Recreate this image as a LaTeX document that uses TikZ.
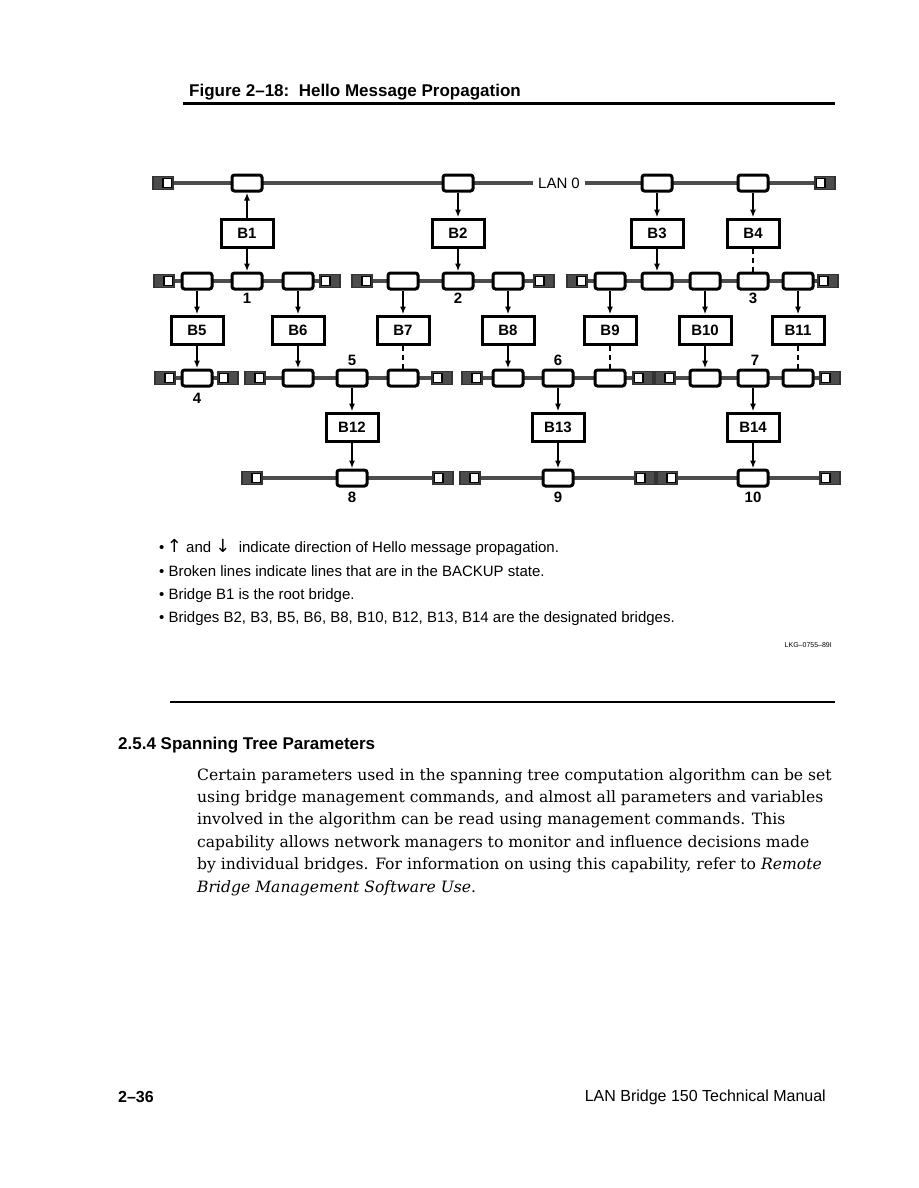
\documentclass[tikz,border=0pt]{standalone}
\usepackage{fontspec}
\setmainfont{DejaVu Serif}
\setsansfont{Liberation Sans}
\newfontfamily\arrowfont{DejaVu Sans}
\usepackage{xcolor}
\usetikzlibrary{arrows.meta,positioning}

\begin{document}
\begin{tikzpicture}[
    x=1pt, y=-1pt,
    lan/.style={line width=3.5pt, black!70},
    port/.style={draw, line width=3pt, rounded corners=2.5pt, minimum width=30pt, minimum height=16pt, inner sep=0pt, fill=white},
    bridge/.style={draw, line width=3pt, minimum width=52pt, minimum height=28pt, inner sep=0pt, fill=white, font=\sffamily\bfseries\fontsize{15}{15}\selectfont},
    term/.style={draw, line width=1.5pt, black!80, fill=black!70, minimum width=20pt, minimum height=13pt, inner sep=0pt},
    terml/.style={term, path picture={\draw[black, fill=white, line width=1.5pt] ([xshift=-10pt,yshift=4.5pt]path picture bounding box.east) rectangle ([xshift=-1.5pt,yshift=-4.5pt]path picture bounding box.east);}},
    termr/.style={term, path picture={\draw[black, fill=white, line width=1.5pt] ([xshift=1.5pt,yshift=4.5pt]path picture bounding box.west) rectangle ([xshift=10pt,yshift=-4.5pt]path picture bounding box.west);}},
    hello/.style={-{Latex[length=8pt,width=6pt]}, line width=2pt},
    backup/.style={line width=2pt, dash pattern=on 5pt off 4pt},
    lannum/.style={font=\sffamily\bfseries\fontsize{15}{15}\selectfont, inner sep=0pt},
    note/.style={anchor=west, inner sep=0pt, font=\sffamily\fontsize{15}{15}\selectfont, text height=11pt, text depth=3pt}
  ]
    \fill[white] (0,0) rectangle (918,1188);
    \useasboundingbox (0,0) rectangle (918,1188);

    % page heading
    \node[anchor=west, inner sep=0pt, font=\sffamily\bfseries\fontsize{17}{17}\selectfont] (title) at (189,92) {Figure 2–18:\ \ Hello Message Propagation};
    \draw[line width=3pt] (183,104) -- (835,104);

    % LAN 0
    \node[terml] (t0l) at (163,183) {};
    \node[termr] (t0r) at (825,183) {};
    \node[inner sep=5pt, font=\sffamily\fontsize{15}{15}\selectfont] (lan0) at (559,183) {LAN 0};
    \draw[lan] (t0l) -- (lan0);
    \draw[lan] (lan0) -- (t0r);
    \node[port] (p0a) at (247,183) {};
    \node[port] (p0b) at (458,183) {};
    \node[port] (p0c) at (657,183) {};
    \node[port] (p0d) at (753,183) {};

    \node[bridge] (b1) at (247,233) {B1};
    \node[bridge] (b2) at (458,233) {B2};
    \node[bridge] (b3) at (657,233) {B3};
    \node[bridge] (b4) at (753,233) {B4};

    % LANs 1, 2, 3
    \node[terml] (t1l) at (164,281) {};
    \node[termr] (t1r) at (330,281) {};
    \draw[lan] (t1l) -- (t1r);
    \node[port] (p1a) at (197,281) {};
    \node[port] (p1b) at (247,281) {};
    \node[port] (p1c) at (298,281) {};
    \node[lannum] (n1) at (247,298) {1};

    \node[terml] (t2l) at (362,281) {};
    \node[termr] (t2r) at (544,281) {};
    \draw[lan] (t2l) -- (t2r);
    \node[port] (p2a) at (403,281) {};
    \node[port] (p2b) at (458,281) {};
    \node[port] (p2c) at (508,281) {};
    \node[lannum] (n2) at (458,298) {2};

    \node[terml] (t3l) at (577,281) {};
    \node[termr] (t3r) at (828,281) {};
    \draw[lan] (t3l) -- (t3r);
    \node[port] (p3a) at (610,281) {};
    \node[port] (p3b) at (657,281) {};
    \node[port] (p3c) at (705,281) {};
    \node[port] (p3d) at (753,281) {};
    \node[port] (p3e) at (798,281) {};
    \node[lannum] (n3) at (753,298) {3};

    \node[bridge] (b5) at (197,330) {B5};
    \node[bridge] (b6) at (298,330) {B6};
    \node[bridge] (b7) at (403,330) {B7};
    \node[bridge] (b8) at (508,330) {B8};
    \node[bridge] (b9) at (610,330) {B9};
    \node[bridge] (b10) at (705,330) {B10};
    \node[bridge] (b11) at (798,330) {B11};

    % LANs 4, 5, 6, 7
    \node[terml] (t4l) at (165,378) {};
    \node[termr] (t4r) at (228,378) {};
    \draw[lan] (t4l) -- (t4r);
    \node[port] (p4a) at (197,378) {};
    \node[lannum] (n4) at (197,398) {4};

    \node[terml] (t5l) at (255,378) {};
    \node[termr] (t5r) at (442,378) {};
    \draw[lan] (t5l) -- (t5r);
    \node[port] (p5a) at (298,378) {};
    \node[port] (p5b) at (352,378) {};
    \node[port] (p5c) at (403,378) {};
    \node[lannum] (n5) at (352,360) {5};

    \node[terml] (t6l) at (472,378) {};
    \node[termr] (t6r) at (643,378) {};
    \draw[lan] (t6l) -- (t6r);
    \node[port] (p6a) at (508,378) {};
    \node[port] (p6b) at (558,378) {};
    \node[port] (p6c) at (610,378) {};
    \node[lannum] (n6) at (558,360) {6};

    \node[terml] (t7l) at (665,378) {};
    \node[termr] (t7r) at (830,378) {};
    \draw[lan] (t7l) -- (t7r);
    \node[port] (p7a) at (705,378) {};
    \node[port] (p7b) at (753,378) {};
    \node[port] (p7c) at (798,378) {};
    \node[lannum] (n7) at (755,360) {7};

    \node[bridge] (b12) at (352,427) {B12};
    \node[bridge] (b13) at (558,427) {B13};
    \node[bridge] (b14) at (753,427) {B14};

    % LANs 8, 9, 10
    \node[terml] (t8l) at (252,478) {};
    \node[termr] (t8r) at (443,478) {};
    \draw[lan] (t8l) -- (t8r);
    \node[port] (p8a) at (352,478) {};
    \node[lannum] (n8) at (352,497) {8};

    \node[terml] (t9l) at (470,478) {};
    \node[termr] (t9r) at (645,478) {};
    \draw[lan] (t9l) -- (t9r);
    \node[port] (p9a) at (558,478) {};
    \node[lannum] (n9) at (558,497) {9};

    \node[terml] (t10l) at (667,478) {};
    \node[termr] (t10r) at (830,478) {};
    \draw[lan] (t10l) -- (t10r);
    \node[port] (p10a) at (753,478) {};
    \node[lannum] (n10) at (753,497) {10};

    % hello messages and backup lines
    \draw[hello] (b1) -- (p0a);
    \draw[hello] (b1) -- (p1b);
    \draw[hello] (p0b) -- (b2);
    \draw[hello] (b2) -- (p2b);
    \draw[hello] (p0c) -- (b3);
    \draw[hello] (b3) -- (p3b);
    \draw[hello] (p0d) -- (b4);
    \draw[backup] (b4) -- (p3d);

    \draw[hello] (p1a) -- (b5);
    \draw[hello] (b5) -- (p4a);
    \draw[hello] (p1c) -- (b6);
    \draw[hello] (b6) -- (p5a);
    \draw[hello] (p2a) -- (b7);
    \draw[backup] (b7) -- (p5c);
    \draw[hello] (p2c) -- (b8);
    \draw[hello] (b8) -- (p6a);
    \draw[hello] (p3a) -- (b9);
    \draw[backup] (b9) -- (p6c);
    \draw[hello] (p3c) -- (b10);
    \draw[hello] (b10) -- (p7a);
    \draw[hello] (p3e) -- (b11);
    \draw[backup] (b11) -- (p7c);

    \draw[hello] (p5b) -- (b12);
    \draw[hello] (b12) -- (p8a);
    \draw[hello] (p6b) -- (b13);
    \draw[hello] (b13) -- (p9a);
    \draw[hello] (p7b) -- (b14);
    \draw[hello] (b14) -- (p10a);

    % notes
    \node[note] (note1) at (159,548) {•\,{\arrowfont\fontsize{18}{18}\selectfont ↑} and {\arrowfont\fontsize{18}{18}\selectfont ↓}\ \ indicate direction of Hello message propagation.};
    \node[note] (note2) at (159,572) {• Broken lines indicate lines that are in the BACKUP state.};
    \node[note] (note3) at (159,595) {• Bridge B1 is the root bridge.};
    \node[note] (note4) at (159,618) {• Bridges B2, B3, B5, B6, B8, B10, B12, B13, B14 are the designated bridges.};
    \node[anchor=east, inner sep=0pt, font=\sffamily\fontsize{7}{7}\selectfont] (lkg) at (832,645) {LKG–0755–89I};

    \draw[line width=2pt] (170,702) -- (835,702);

    % section text
    \node[anchor=west, inner sep=0pt, font=\sffamily\bfseries\fontsize{17}{17}\selectfont] (sec) at (118,745) {2.5.4 Spanning Tree Parameters};
    \node[anchor=north west, align=left, inner sep=0pt, font=\fontsize{15.6}{22.4}\selectfont] (para) at (197,768) {Certain parameters used in the spanning tree computation algorithm can be set\\
      using bridge management commands, and almost all parameters and variables\\
      involved in the algorithm can be read using management commands. This\\
      capability allows network managers to monitor and influence decisions made\\
      by individual bridges. For information on using this capability, refer to \textit{Remote}\\
      \textit{Bridge Management Software Use}.};

    % footer
    \node[anchor=west, inner sep=0pt, font=\sffamily\bfseries\fontsize{16}{16}\selectfont] (pg) at (118,1097) {2–36};
    \node[anchor=east, inner sep=0pt, font=\sffamily\fontsize{16}{16}\selectfont] (man) at (826,1097) {LAN Bridge 150 Technical Manual};
  \end{tikzpicture}
\end{document}
